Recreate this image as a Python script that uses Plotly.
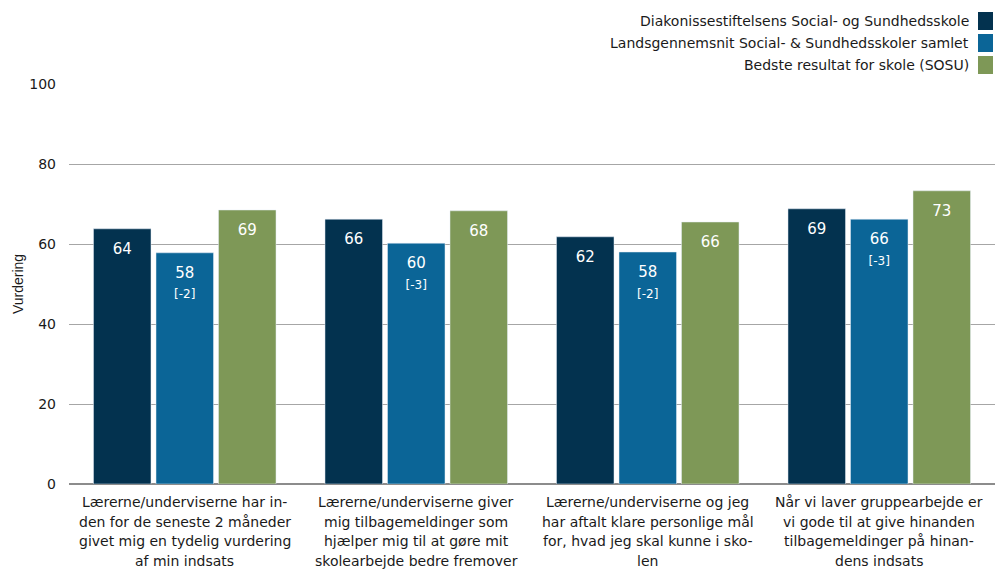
import plotly.graph_objects as go

category_lines = [
    ["Lærerne/underviserne har in-", "den for de seneste 2 måneder", "givet mig en tydelig vurdering", "af min indsats"],
    ["Lærerne/underviserne giver", "mig tilbagemeldinger som", "hjælper mig til at gøre mit", "skolearbejde bedre fremover"],
    ["Lærerne/underviserne og jeg", "har aftalt klare personlige mål", "for, hvad jeg skal kunne i sko-", "len"],
    ["Når vi laver gruppearbejde er", "vi gode til at give hinanden", "tilbagemeldinger på hinan-", "dens indsats"],
]
series_names = [
    "Diakonissestiftelsens Social- og Sundhedsskole",
    "Landsgennemsnit Social- & Sundhedsskoler samlet",
    "Bedste resultat for skole (SOSU)",
]
school = [63.8, 66.2, 61.8, 68.8]
school_labels = ["64", "66", "62", "69"]
national = [57.8, 60.2, 58.0, 66.2]
national_labels = ["58", "60", "58", "66"]
national_diff = ["[-2]", "[-3]", "[-2]", "[-3]"]
best = [68.5, 68.3, 65.5, 73.3]
best_labels = ["69", "68", "66", "73"]
colors = ["#03324f", "#0b6597", "#7e9857"]

FONT = "DejaVu Sans"
TXT = "#1a1a1a"
x = list(range(len(category_lines)))

PAD = "<span style='font-size:1px'>&nbsp;</span><br>"


def main_label(v):
    return f"{PAD}<span style='font-size:15px'>{v}</span>"


fig = go.Figure()
fig.add_bar(x=x, y=school, name=series_names[0], marker_color=colors[0],
            text=[main_label(v) for v in school_labels])
fig.add_bar(x=x, y=national, name=series_names[1], marker_color=colors[1],
            text=[main_label(v) + f"<br><span style='font-size:12px'>{d}</span>"
                  for v, d in zip(national_labels, national_diff)])
fig.add_bar(x=x, y=best, name=series_names[2], marker_color=colors[2],
            text=[main_label(v) for v in best_labels])
fig.update_traces(textposition="inside", insidetextanchor="end",
                  textfont=dict(color="white", size=16, family=FONT),
                  constraintext="none", showlegend=False, hoverinfo="skip")

fig.update_layout(
    width=995, height=569,
    margin=dict(l=69, r=0, t=84, b=85, autoexpand=False),
    plot_bgcolor="white", paper_bgcolor="white",
    barmode="group", bargap=0.19, bargroupgap=0.08,
    font=dict(family=FONT, size=14, color=TXT),
    showlegend=False,
)
fig.update_xaxes(tickvals=x, showticklabels=False, range=[-0.5, 3.5],
                 showline=False, ticks="", automargin=False)
fig.update_yaxes(range=[0, 100], dtick=20, showgrid=True, gridcolor="#a6a6a6",
                 gridwidth=1, zeroline=True, zerolinecolor="#8c8c8c", zerolinewidth=1.5,
                 automargin=False, ticklabelstandoff=12,
                 title=dict(text="Vurdering", font=dict(size=14, color=TXT, family="Liberation Sans"), standoff=2),
                 tickfont=dict(size=14, color=TXT))

# category labels, one line per annotation, anchored to category positions on x axis
for xi, lines in zip(x, category_lines):
    for j, line in enumerate(lines):
        yc = 502 + j * 19.5
        fig.add_annotation(xref="x", yref="paper", x=xi, y=(484 - yc) / 400,
                           text=line, showarrow=False, xanchor="center", yanchor="middle",
                           font=dict(size=14, color=TXT, family=FONT))

# manual legend: right-aligned text with squares on the right
for i, (nm, c) in enumerate(zip(series_names, colors)):
    yc = 21 + i * 22
    fig.add_annotation(xref="paper", yref="paper", x=(971 - 69) / 926,
                       y=1 + (84 - yc) / 400,
                       text=nm, showarrow=False, xanchor="right", yanchor="middle",
                       font=dict(size=14, color=TXT, family=FONT))
    fig.add_shape(type="rect", xref="paper", yref="paper",
                  x0=(978 - 69) / 926, x1=(993 - 69) / 926,
                  y0=1 + (84 - (yc + 9)) / 400, y1=1 + (84 - (yc - 9)) / 400,
                  fillcolor=c, line=dict(width=0))

fig.write_html("out.html", config={"displayModeBar": False},
               post_script="document.body.style.margin='0';")
